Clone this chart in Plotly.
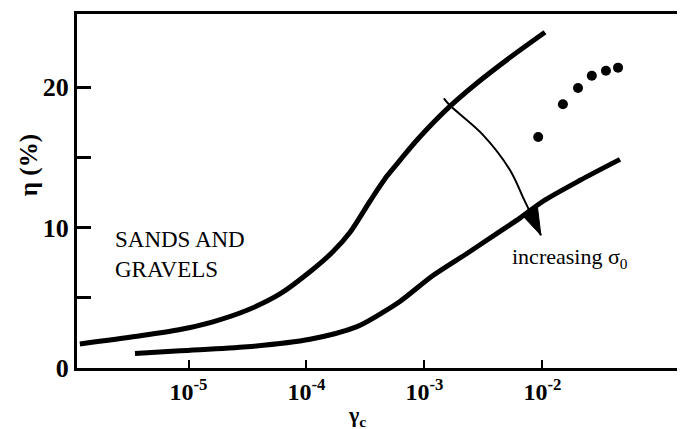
import plotly.graph_objects as go

# ---- data (gamma_c, eta %) ----
upper_gamma = [1.2e-6, 3.66e-6, 8.5e-6, 1.61e-5, 3.13e-5, 5.96e-5, 1.07e-4, 1.68e-4,
               2.34e-4, 3.45e-4, 4.81e-4, 6.19e-4, 8.8e-4, 1.64e-3, 2.79e-3, 5.3e-3, 1.05e-2]
upper_eta = [1.71, 2.26, 2.74, 3.29, 4.11, 5.27, 6.85, 8.29,
             9.66, 11.87, 13.66, 14.78, 16.30, 18.62, 20.29, 22.1, 23.9]

lower_gamma = [3.52e-6, 8.5e-6, 3.13e-5, 1.07e-4, 2.68e-4, 4.2e-4, 6.19e-4, 1.18e-3,
               2.29e-3, 4.37e-3, 6.44e-3, 1.01e-2, 2.08e-2, 4.54e-2]
lower_eta = [1.03, 1.23, 1.51, 2.05, 2.95, 3.84, 4.73, 6.58,
             8.15, 9.73, 10.67, 11.87, 13.36, 14.85]

dots_gamma = [9.2e-3, 1.49e-2, 2.0e-2, 2.62e-2, 3.45e-2, 4.37e-2]
dots_eta = [16.45, 18.77, 19.93, 20.8, 21.16, 21.38]

arrow_gamma = [1.46e-3, 1.64e-3, 3.13e-3, 5.3e-3, 6.97e-3, 8.3e-3, 9.7e-3]
arrow_eta = [19.2, 18.7, 16.6, 14.1, 12.0, 10.67, 9.45]

x_tickvals = [1e-5, 1e-4, 1e-3, 1e-2]
x_ticktext = ["<b>10<sup>-5</sup></b>", "<b>10<sup>-4</sup></b>",
              "<b>10<sup>-3</sup></b>", "<b>10<sup>-2</sup></b>"]
y_tickvals = [0, 5, 10, 15, 20]
y_ticktext = ["<b>0</b>", "", "<b>10</b>", "", "<b>20</b>"]

FONT = "Liberation Serif"

fig = go.Figure()
fig.add_trace(go.Scatter(x=upper_gamma, y=upper_eta, mode="lines",
                         line=dict(color="black", width=5, shape="spline", smoothing=0.8),
                         showlegend=False, hoverinfo="skip"))
fig.add_trace(go.Scatter(x=lower_gamma, y=lower_eta, mode="lines",
                         line=dict(color="black", width=5, shape="spline", smoothing=0.8),
                         showlegend=False, hoverinfo="skip"))
fig.add_trace(go.Scatter(x=dots_gamma, y=dots_eta, mode="markers",
                         marker=dict(color="black", size=10),
                         showlegend=False, hoverinfo="skip"))
arrow_sizes = [0] * (len(arrow_gamma) - 1) + [28]
fig.add_trace(go.Scatter(x=arrow_gamma, y=arrow_eta, mode="lines+markers",
                         line=dict(color="black", width=2, shape="spline"),
                         marker=dict(symbol="arrow", size=arrow_sizes, angleref="previous",
                                     color="black", opacity=1,
                                     line=dict(width=1, color="black")),
                         showlegend=False, hoverinfo="skip"))

# the page body has an 8px default margin, so the figure is 8px smaller
fig.update_layout(
    width=677, height=421,
    margin=dict(l=69, r=0, t=6, b=61),
    paper_bgcolor="white", plot_bgcolor="white",
    xaxis=dict(type="log", range=[-5.945, -0.792], showgrid=False, zeroline=False,
               showline=True, linecolor="black", linewidth=3, mirror=True,
               ticks="inside", ticklen=8, tickwidth=2, tickcolor="black",
               tickvals=x_tickvals, ticktext=x_ticktext,
               tickfont=dict(family=FONT, size=24, color="black")),
    yaxis=dict(range=[0, 25.2], showgrid=False, zeroline=False,
               showline=True, linecolor="black", linewidth=3,
               ticks="inside", ticklen=14, tickwidth=2.5, tickcolor="black",
               tickvals=y_tickvals, ticktext=y_ticktext,
               tickfont=dict(family=FONT, size=26, color="black")),
    annotations=[
        dict(text="SANDS AND<br>GRAVELS", xref="paper", yref="paper", x=0.059, y=0.322,
             xanchor="left", yanchor="middle", align="left", showarrow=False,
             font=dict(family=FONT, size=23, color="black")),
        dict(text="increasing σ<sub>0</sub>", xref="paper", yref="paper",
             x=0.712, y=0.311, xanchor="left", yanchor="middle", showarrow=False,
             font=dict(family=FONT, size=22, color="black")),
        dict(text="<b>γ<sub>c</sub></b>", xref="paper", yref="paper",
             x=0.4605, y=-0.135, xanchor="center", yanchor="middle", showarrow=False,
             font=dict(family=FONT, size=22, color="black")),
        dict(text="<b>η (%)</b>", xref="paper", yref="paper",
             x=-0.079, y=0.573, xanchor="center", yanchor="middle", textangle=-90,
             showarrow=False, font=dict(family=FONT, size=25, color="black")),
    ],
)

fig.write_html("out.html")
